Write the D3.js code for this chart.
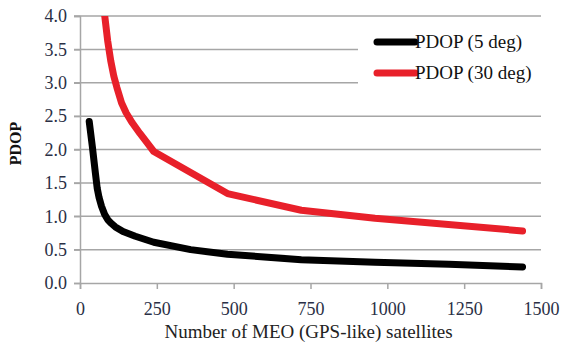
<!DOCTYPE html>
<html>
<head>
<meta charset="utf-8">
<script src="https://cdn.jsdelivr.net/npm/d3@7"></script>
<style>
  body { margin: 0; background: #fff; }
  svg text { font-family: 'Liberation Serif', Tinos, 'Times New Roman', Times, 'DejaVu Serif', serif !important; }
</style>
</head>
<body>
<svg width="563" height="347"></svg>
<script>
// data
const sats5 = [30, 40, 50, 56, 62, 70, 80, 90, 100, 115, 140, 180, 240, 360, 480, 720, 960, 1200, 1440]
const pdop5 = [2.42, 2.05, 1.65, 1.42, 1.28, 1.15, 1.03, 0.95, 0.9, 0.84, 0.77, 0.7, 0.61, 0.5, 0.43, 0.35, 0.31, 0.28, 0.24]
const sats30 = [72, 80, 90, 100, 110, 120, 135, 150, 170, 195, 220, 240, 480, 720, 960, 1440]
const pdop30 = [4.4, 4.02, 3.63, 3.33, 3.1, 2.93, 2.7, 2.55, 2.4, 2.24, 2.09, 1.97, 1.34, 1.09, 0.97, 0.78]
const xTicks = [0, 250, 500, 750, 1000, 1250, 1500]
const yTicks = [0, 0.5, 1, 1.5, 2, 2.5, 3, 3.5, 4]
const seriesNames = ['PDOP (5 deg)', 'PDOP (30 deg)']
const seriesColors = ['#000000', '#e8202a']

const svg = d3.select('svg')
const margin = {top: 16, right: 22, bottom: 64, left: 80}
const width = 563 - margin.left - margin.right
const height = 347 - margin.top - margin.bottom

const graph = svg.append('g')
  .attr('transform', `translate(${margin.left},${margin.top})`)

const x = d3.scaleLinear().domain([0, 1500]).range([0, width])
const y = d3.scaleLinear().domain([0, 4]).range([height, 0])

// gridlines
graph.append('g')
  .selectAll('line')
  .data(yTicks.filter(d => d > 0))
  .enter().append('line')
  .attr('x1', -6).attr('x2', width)
  .attr('y1', d => y(d)).attr('y2', d => y(d))
  .attr('stroke', '#a6a6a6')
  .attr('stroke-width', 1.5)

// axes
const yAxis = d3.axisLeft(y).tickValues(yTicks).tickFormat(d3.format('.1f')).tickSize(6)
const xAxis = d3.axisBottom(x).tickValues(xTicks).tickFormat(d3.format('d')).tickSize(6)

const yAxisGroup = graph.append('g').call(yAxis)
const xAxisGroup = graph.append('g').attr('transform', `translate(0,${height})`).call(xAxis)

;[yAxisGroup, xAxisGroup].forEach(g => {
  g.attr('font-family', null)
  g.select('.domain').attr('stroke', '#a6a6a6').attr('stroke-width', 1.5)
  g.selectAll('.tick line').attr('stroke', '#a6a6a6').attr('stroke-width', 1.5)
  g.selectAll('text')
    .attr('font-size', 18)
    .attr('fill', '#2a2f45')
})
yAxisGroup.selectAll('text').attr('x', -13)
xAxisGroup.selectAll('text').attr('y', 19)

// axis titles
svg.append('text')
  .attr('x', margin.left + width / 2 - 2)
  .attr('y', 338)
  .attr('text-anchor', 'middle')
  .attr('font-size', 19)
  .attr('fill', '#222')
  .text('Number of MEO (GPS-like)  satellites')

svg.append('text')
  .attr('transform', `translate(21,${margin.top + height / 2 - 6}) rotate(-90)`)
  .attr('text-anchor', 'middle')
  .attr('font-size', 16)
  .attr('font-weight', 'bold')
  .attr('fill', '#111')
  .text('PDOP')

// clip for the plot area
svg.append('clipPath').attr('id', 'plotclip')
  .append('rect').attr('x', -5).attr('y', 0).attr('width', width + 10).attr('height', height)

const line = d3.line()
  .x(d => x(d[0]))
  .y(d => y(d[1]))
  .curve(d3.curveLinear)

const series = [
  d3.zip(sats5, pdop5),
  d3.zip(sats30, pdop30)
]

// legend box (covers gridlines)
const legend = graph.append('g')
legend.append('rect')
  .attr('x', 278).attr('y', 5)
  .attr('width', 200).attr('height', 80)
  .attr('fill', '#fff')

graph.append('g').attr('clip-path', 'url(#plotclip)')
  .selectAll('path')
  .data(series)
  .enter().append('path')
  .attr('d', line)
  .attr('fill', 'none')
  .attr('stroke', (d, i) => seriesColors[i])
  .attr('stroke-width', 7)
  .attr('stroke-linecap', 'round')
  .attr('stroke-linejoin', 'round')

seriesNames.forEach((name, i) => {
  const ly = 26 + i * 31
  legend.append('line')
    .attr('x1', 297).attr('x2', 335)
    .attr('y1', ly).attr('y2', ly)
    .attr('stroke', seriesColors[i])
    .attr('stroke-width', 7)
    .attr('stroke-linecap', 'round')
  legend.append('text')
    .attr('x', 335).attr('y', ly + 6)
    .attr('font-size', 19)
    .attr('fill', '#111')
    .text(name)
})
</script>
</body>
</html>
